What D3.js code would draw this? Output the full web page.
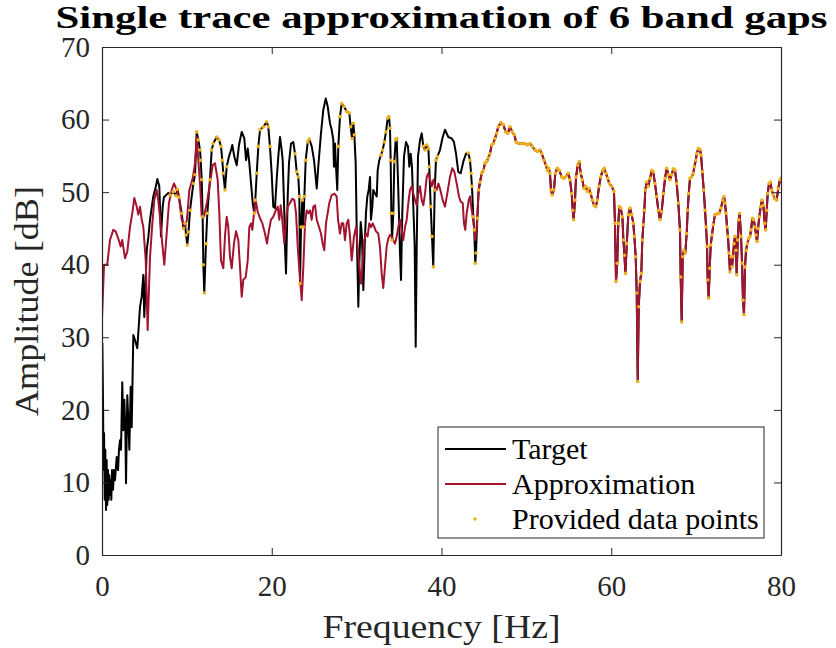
<!DOCTYPE html>
<html>
<head>
<meta charset="utf-8">
<script src="https://cdn.jsdelivr.net/npm/d3@7"></script>
<style>
  html, body { margin: 0; padding: 0; background: #fff; }
  svg { display: block; }
  svg text { font-family: 'Liberation Serif', 'Times New Roman', Times, serif; }
</style>
</head>
<body>
<div id="chart"></div>
<script>
// ── Data (frequency in Hz, amplitude in dB) ─────────────────────────────────
// Target below ~44 Hz, where it differs from the approximation
const targetHead = [
  [0.04,29.2],[0.12,21.4],[0.18,11.7],[0.24,16.8],[0.32,7.6],[0.39,14.5],[0.47,6.2],[0.55,13.1],
  [0.62,6.9],[0.71,11.7],[0.79,7.6],[0.86,11.0],[0.94,8.3],[1.03,10.3],[1.10,7.6],[1.18,11.7],
  [1.30,9.0],[1.41,11.7],[1.53,10.3],[1.73,13.5],[1.89,11.7],[2.00,14.5],[2.12,15.8],[2.24,14.5],
  [2.39,23.8],[2.51,17.2],[2.63,21.4],[2.75,17.2],[2.83,9.9],[2.98,22.0],[3.10,18.6],[3.22,14.5],
  [3.38,23.2],[3.50,17.6],[3.69,30.3],[3.89,29.6],[4.16,28.5],[4.48,34.2],[4.68,35.6],[4.87,38.6],
  [4.98,32.8],[5.07,35.1],[5.27,42.0],[5.46,43.8],[5.66,46.2],[6.04,49.4],[6.33,50.7],[6.52,51.8],
  [6.75,50.8],[6.95,43.9],[7.15,48.0],[7.30,49.3],[7.81,49.9],[8.01,49.6],[8.40,50.1],[8.72,49.5],
  [8.90,50.4],[9.07,49.3],[9.39,47.1],[9.60,45.0],[9.78,45.7],[9.90,44.1],[10.05,42.7],[10.19,44.5],
  [10.37,47.5],[10.76,51.2],[10.96,52.4],[11.16,58.3],[11.35,57.2],[11.55,55.8],[11.63,54.4],[11.75,51.7],
  [11.86,46.6],[11.94,40.0],[12.05,36.1],[12.25,42.9],[12.41,47.1],[12.72,51.7],[12.92,55.8],[13.11,56.7],
  [13.51,57.6],[13.79,57.2],[14.02,56.3],[14.17,54.4],[14.29,52.6],[14.49,50.3],[14.69,53.5],[14.96,54.9],
  [15.20,55.8],[15.35,56.5],[15.59,54.9],[15.87,53.7],[16.14,56.5],[16.46,58.3],[16.77,57.4],[16.97,54.4],
  [17.17,56.0],[17.36,54.0],[17.56,51.2],[17.76,48.5],[17.94,47.1],[18.06,48.9],[18.23,52.6],[18.42,56.3],
  [18.62,58.6],[19.00,59.0],[19.41,59.7],[19.59,59.0],[19.79,56.3],[19.99,52.6],[20.18,48.0],[20.38,47.8],
  [20.58,51.7],[20.77,54.9],[20.97,57.6],[21.17,55.8],[21.29,54.4],[21.36,51.7],[21.48,47.1],[21.56,42.5],
  [21.68,38.8],[21.88,49.4],[22.03,54.0],[22.27,56.7],[22.54,56.9],[22.74,55.3],[22.94,52.8],[23.13,52.1],
  [23.25,49.4],[23.33,37.4],[23.45,45.2],[23.60,48.9],[23.72,45.2],[23.84,49.4],[24.00,54.4],[24.24,56.9],
  [24.42,57.3],[24.71,56.3],[24.98,54.4],[25.30,50.5],[25.48,53.5],[25.80,58.1],[26.07,61.3],[26.36,62.9],
  [26.59,61.8],[26.86,59.5],[27.06,58.6],[27.25,57.2],[27.33,53.5],[27.45,56.7],[27.57,53.5],[27.72,50.3],
  [27.84,56.3],[28.04,60.4],[28.24,62.2],[28.51,61.8],[28.83,61.1],[29.14,60.9],[29.30,59.0],[29.46,57.4],
  [29.61,59.5],[29.73,57.9],[29.89,54.0],[30.01,44.8],[30.20,34.2],[30.32,40.2],[30.48,45.9],[30.63,43.9],
  [30.79,36.5],[30.95,42.5],[31.10,47.1],[31.26,49.4],[31.42,50.3],[31.58,52.1],[31.69,46.2],[31.85,48.0],
  [31.96,50.3],[32.17,49.8],[32.37,49.4],[32.48,53.0],[32.67,54.4],[32.87,55.1],[33.07,55.8],[33.26,56.9],
  [33.46,58.3],[33.66,60.2],[33.81,60.4],[33.93,58.8],[34.01,54.4],[34.09,47.1],[34.17,43.4],[34.32,47.1],
  [34.44,54.2],[34.60,57.2],[34.72,57.4],[34.91,50.3],[35.11,41.6],[35.23,37.9],[35.38,47.1],[35.58,54.9],
  [35.82,56.9],[36.05,56.3],[36.21,53.5],[36.37,55.3],[36.52,53.5],[36.68,48.0],[36.84,42.5],[36.96,28.7],
  [37.08,42.5],[37.23,54.9],[37.47,57.2],[37.67,58.1],[37.86,56.3],[38.06,55.8],[38.26,56.5],[38.45,56.0],
  [38.56,53.5],[38.73,48.0],[38.88,43.9],[39.03,39.7],[39.20,50.3],[39.35,54.4],[39.51,54.9],[39.82,55.8],
  [40.12,57.5],[40.41,58.6],[40.80,57.6],[41.20,57.4],[41.47,56.9],[41.71,55.3],[41.98,52.8],[42.26,52.6],
  [42.57,54.2],[42.89,55.3],[43.16,55.4],[43.36,54.4],[43.48,52.6],[43.59,50.8],[43.75,46.6],[43.86,44.8],
  [43.98,40.2],[44.06,41.6],[44.22,46.4]
];

// Approximation below ~44 Hz
const approxHead = [
  [0.00,32.6],[0.24,40.0],[0.62,40.0],[0.94,43.4],[1.33,44.8],[1.61,44.6],[1.92,43.6],[2.20,42.5],
  [2.39,43.4],[2.71,40.9],[2.98,41.8],[3.30,45.2],[3.57,47.1],[3.81,49.2],[4.09,48.0],[4.28,46.9],
  [4.48,48.0],[4.68,46.2],[4.87,45.2],[5.15,40.6],[5.38,31.0],[5.66,41.1],[5.93,45.7],[6.16,48.9],
  [6.44,50.3],[6.63,48.9],[6.83,46.6],[7.10,42.9],[7.34,40.0],[7.62,44.3],[7.89,48.5],[8.21,50.3],
  [8.48,51.2],[8.80,50.3],[9.11,48.9],[9.39,46.2],[9.78,45.2],[10.01,46.2],[10.29,50.3],[10.69,51.9],
  [10.96,54.0],[11.16,57.6],[11.35,54.4],[11.55,51.2],[11.75,46.6],[12.02,46.6],[12.41,48.9],[12.72,51.2],
  [13.04,53.7],[13.31,54.0],[13.63,51.7],[13.82,47.1],[14.02,40.6],[14.29,39.5],[14.49,43.9],[14.69,46.6],
  [14.88,45.2],[15.08,41.1],[15.28,39.5],[15.55,42.9],[15.79,44.6],[16.06,43.4],[16.26,39.7],[16.46,35.6],
  [16.65,37.9],[16.93,38.3],[17.17,40.6],[17.36,45.2],[17.56,45.7],[17.71,44.8],[17.91,47.1],[18.11,48.9],
  [18.34,47.3],[18.62,46.4],[18.89,45.7],[19.20,44.3],[19.44,42.9],[19.68,44.8],[19.91,46.2],[20.18,46.6],
  [20.47,47.5],[20.70,48.0],[20.89,46.2],[21.05,48.2],[21.24,46.2],[21.48,42.9],[21.68,46.2],[21.88,48.0],
  [22.15,48.5],[22.42,49.1],[22.66,48.9],[22.86,47.1],[23.06,42.5],[23.25,39.3],[23.53,35.1],[23.72,39.7],
  [23.92,45.7],[24.12,47.5],[24.31,47.1],[24.51,47.5],[24.71,46.2],[24.90,48.0],[25.10,48.2],[25.30,46.2],
  [25.57,45.2],[25.80,44.3],[26.00,42.9],[26.19,42.0],[26.39,45.7],[26.59,47.1],[26.78,48.5],[27.06,49.6],
  [27.37,49.8],[27.65,49.4],[27.81,46.2],[28.04,44.3],[28.24,45.7],[28.43,45.7],[28.63,43.4],[28.83,45.7],
  [29.02,46.2],[29.22,43.9],[29.42,40.6],[29.69,43.9],[29.93,45.2],[30.12,42.5],[30.32,39.7],[30.52,37.4],
  [30.72,40.6],[30.90,43.4],[31.10,44.3],[31.30,43.9],[31.49,45.7],[31.69,45.2],[31.89,45.7],[32.08,45.2],
  [32.28,44.6],[32.55,44.3],[32.75,42.5],[32.95,38.8],[33.14,36.8],[33.34,39.7],[33.54,42.5],[33.73,43.6],
  [33.93,44.1],[34.13,43.9],[34.32,43.4],[34.52,42.9],[34.72,43.9],[34.91,45.2],[35.11,46.2],[35.31,44.8],
  [35.50,43.4],[35.70,45.2],[35.90,46.2],[36.09,48.5],[36.29,50.3],[36.49,50.8],[36.68,49.8],[36.88,48.9],
  [37.08,48.2],[37.27,49.8],[37.47,50.8],[37.67,48.9],[37.86,48.2],[38.06,49.8],[38.26,52.1],[38.45,52.6],
  [38.66,51.7],[38.85,50.8],[39.05,51.7],[39.23,50.8],[39.43,50.3],[39.63,51.2],[39.82,50.5],[40.14,48.9],
  [40.41,48.0],[40.68,49.8],[41.00,52.1],[41.27,53.3],[41.51,52.8],[41.79,51.2],[42.06,49.4],[42.26,48.7],
  [42.50,48.5],[42.65,45.7],[42.80,44.8],[42.97,47.1],[43.21,48.9],[43.36,49.4],[43.51,48.0],[43.68,46.6],
  [43.83,45.2],[43.98,43.4],[44.15,45.2]
];

// Above ~44 Hz target and approximation coincide
const commonTail = [
  [44.38,50.3],[44.54,51.4],[44.74,52.6],[44.93,53.0],[45.13,54.0],[45.33,54.2],[45.51,54.7],[45.71,55.3],
  [45.91,56.5],[46.10,56.7],[46.30,57.4],[46.50,58.1],[46.69,59.0],[47.01,59.6],[47.28,59.3],[47.56,58.3],
  [47.80,58.1],[48.07,59.0],[48.34,58.3],[48.58,57.9],[48.78,56.9],[49.05,56.7],[49.45,56.7],[49.84,56.7],
  [50.11,56.5],[50.43,56.7],[50.70,56.3],[51.02,55.8],[51.29,55.6],[51.61,55.8],[51.81,55.3],[52.08,54.4],
  [52.31,53.7],[52.47,53.0],[52.63,53.3],[52.78,52.6],[52.90,50.3],[53.05,49.6],[53.25,50.3],[53.41,52.6],
  [53.64,53.3],[53.88,53.0],[54.16,52.1],[54.43,51.9],[54.67,52.2],[54.94,52.6],[55.14,51.7],[55.34,49.8],
  [55.46,47.5],[55.57,46.2],[55.73,48.9],[55.85,52.1],[56.05,53.7],[56.24,54.2],[56.40,52.6],[56.59,51.7],
  [56.79,50.5],[56.99,50.8],[57.18,50.1],[57.38,50.5],[57.58,49.8],[57.77,48.9],[57.97,48.2],[58.17,48.0],
  [58.36,48.9],[58.56,50.8],[58.76,52.1],[58.99,53.0],[59.18,53.3],[59.38,52.6],[59.58,51.9],[59.77,51.2],
  [60.05,50.8],[60.32,50.1],[60.44,45.7],[60.56,37.7],[60.71,40.2],[60.83,45.7],[60.95,48.0],[61.12,47.8],
  [61.31,46.6],[61.43,43.4],[61.55,41.3],[61.67,38.8],[61.83,42.9],[62.01,46.9],[62.21,47.8],[62.41,46.9],
  [62.60,45.7],[62.72,43.9],[62.88,41.1],[63.00,36.1],[63.12,23.9],[63.24,34.2],[63.39,37.7],[63.54,38.8],
  [63.66,43.4],[63.78,45.5],[63.90,47.5],[64.01,50.3],[64.18,51.4],[64.36,50.8],[64.57,51.9],[64.77,53.0],
  [64.95,52.8],[65.15,51.2],[65.35,49.4],[65.55,47.5],[65.74,46.2],[65.94,47.3],[66.14,49.8],[66.34,51.9],
  [66.53,53.3],[66.73,52.4],[66.92,51.7],[67.12,52.4],[67.31,53.2],[67.51,53.0],[67.71,51.2],[67.90,48.5],
  [68.10,44.8],[68.18,38.3],[68.30,32.1],[68.42,41.1],[68.57,42.0],[68.72,41.6],[68.89,44.3],[69.01,47.5],
  [69.13,49.8],[69.28,51.9],[69.48,52.1],[69.67,52.6],[69.79,53.5],[69.96,54.4],[70.07,55.3],[70.26,56.0],
  [70.46,55.9],[70.58,55.1],[70.73,52.8],[70.90,50.3],[71.05,47.5],[71.17,45.2],[71.29,42.5],[71.36,37.9],
  [71.48,35.4],[71.60,39.5],[71.72,42.7],[71.87,44.1],[72.02,45.5],[72.22,46.9],[72.49,47.0],[72.73,47.1],
  [72.93,47.8],[73.13,48.9],[73.28,49.4],[73.40,48.5],[73.52,47.1],[73.64,45.2],[73.75,43.9],[73.87,41.6],
  [73.99,39.0],[74.11,41.1],[74.23,39.7],[74.35,41.1],[74.46,42.9],[74.58,43.9],[74.70,42.0],[74.78,38.6],
  [74.90,43.4],[75.02,46.2],[75.13,47.1],[75.29,43.9],[75.41,40.2],[75.52,35.1],[75.64,33.1],[75.76,39.7],
  [75.88,42.0],[76.03,42.9],[76.20,43.6],[76.35,43.9],[76.47,44.8],[76.62,46.4],[76.79,46.2],[76.94,45.2],
  [77.06,44.1],[77.18,43.2],[77.30,45.0],[77.44,46.6],[77.61,48.0],[77.76,48.9],[77.92,48.2],[78.08,45.7],
  [78.20,44.8],[78.32,47.5],[78.43,49.8],[78.59,51.2],[78.74,51.4],[78.91,50.3],[79.09,49.6],[79.29,49.1],
  [79.49,48.9],[79.68,50.5],[79.88,51.7],[80.00,51.9]
];

// Frequency bands where data points were provided (they sit on the target)
const providedBands = [[8.0,14.7],[17.8,19.8],[22.7,24.7],[27.8,29.8],[32.8,34.8],[37.7,39.8],[42.9,80]];

const xTicks = [0, 20, 40, 60, 80];
const yTicks = [0, 10, 20, 30, 40, 50, 60, 70];

const target = targetHead.concat(commonTail);
const approx = approxHead.concat(commonTail);
const provided = target.filter(d => providedBands.some(b => d[0] >= b[0] && d[0] <= b[1]));

// ── Chart ───────────────────────────────────────────────────────────────────
const W = 836, H = 648;
const margin = { top: 47, right: 55, bottom: 93, left: 102 };
const innerW = W - margin.left - margin.right;
const innerH = H - margin.top - margin.bottom;

const RED = '#a2142f', GOLD = '#edb120', AXIS = '#262626';

const svg = d3.select('#chart').append('svg')
  .attr('width', W).attr('height', H)
  .attr('viewBox', `0 0 ${W} ${H}`);

const g = svg.append('g').attr('transform', `translate(${margin.left},${margin.top})`);

const x = d3.scaleLinear().domain([0, 80]).range([0, innerW]);
const y = d3.scaleLinear().domain([0, 70]).range([innerH, 0]);

svg.append('defs').append('clipPath').attr('id', 'plot-clip')
  .append('rect').attr('width', innerW).attr('height', innerH);

const line = d3.line().x(d => x(d[0])).y(d => y(d[1]));

const plot = g.append('g').attr('clip-path', 'url(#plot-clip)');
plot.append('path').datum(target)
  .attr('fill', 'none').attr('stroke', '#000').attr('stroke-width', 2)
  .attr('stroke-linejoin', 'round').attr('d', line);
plot.append('path').datum(approx)
  .attr('fill', 'none').attr('stroke', RED).attr('stroke-width', 2)
  .attr('stroke-linejoin', 'round').attr('d', line);
plot.selectAll('.pt').data(provided).enter().append('circle')
  .attr('class', 'pt')
  .attr('cx', d => x(d[0])).attr('cy', d => y(d[1]))
  .attr('r', 1.8).attr('fill', GOLD);

// Axes: ticks point inward on all four sides (box on)
function styleAxis(ax) {
  ax.select('.domain').attr('stroke', AXIS).attr('stroke-width', 1.2);
  ax.selectAll('.tick line').attr('stroke', AXIS).attr('stroke-width', 1);
  ax.selectAll('.tick text').attr('fill', '#262626').attr('font-size', 29);
}

g.append('g').attr('transform', `translate(0,${innerH})`)
  .call(d3.axisBottom(x).tickValues(xTicks).tickSize(-7).tickSizeOuter(0).tickPadding(20))
  .call(styleAxis);
g.append('g')
  .call(d3.axisTop(x).tickValues(xTicks).tickSize(-7).tickSizeOuter(0).tickFormat(''))
  .call(styleAxis);
g.append('g')
  .call(d3.axisLeft(y).tickValues(yTicks).tickSize(-7).tickSizeOuter(0).tickPadding(12))
  .call(styleAxis);
g.append('g').attr('transform', `translate(${innerW},0)`)
  .call(d3.axisRight(y).tickValues(yTicks).tickSize(-7).tickSizeOuter(0).tickFormat(''))
  .call(styleAxis);

// Title and axis labels
svg.append('text')
  .attr('x', margin.left + innerW / 2).attr('y', 28)
  .attr('text-anchor', 'middle')
  .attr('font-size', 32).attr('font-weight', 'bold')
  .attr('textLength', 772).attr('lengthAdjust', 'spacingAndGlyphs')
  .text('Single trace approximation of 6 band gaps');

svg.append('text')
  .attr('x', margin.left + innerW / 2).attr('y', 638)
  .attr('text-anchor', 'middle')
  .attr('font-size', 34).attr('fill', '#262626')
  .attr('textLength', 238).attr('lengthAdjust', 'spacingAndGlyphs')
  .text('Frequency [Hz]');

svg.append('text')
  .attr('transform', `translate(38,${margin.top + innerH / 2}) rotate(-90)`)
  .attr('text-anchor', 'middle')
  .attr('font-size', 34).attr('fill', '#262626')
  .attr('textLength', 230).attr('lengthAdjust', 'spacingAndGlyphs')
  .text('Amplitude [dB]');

// Legend
const legendItems = [
  { label: 'Target', type: 'line', color: '#000' },
  { label: 'Approximation', type: 'line', color: RED },
  { label: 'Provided data points', type: 'dot', color: GOLD }
];
const legend = svg.append('g').attr('transform', 'translate(438,427)');
legend.append('rect')
  .attr('width', 326).attr('height', 111)
  .attr('fill', '#fff').attr('stroke', AXIS).attr('stroke-width', 1);
legendItems.forEach((item, i) => {
  const ly = 22 + i * 35;
  if (item.type === 'line') {
    legend.append('line').attr('x1', 7).attr('x2', 68).attr('y1', ly).attr('y2', ly)
      .attr('stroke', item.color).attr('stroke-width', 2);
  } else {
    legend.append('circle').attr('cx', 37).attr('cy', ly).attr('r', 1.8).attr('fill', item.color);
  }
  legend.append('text').attr('x', 74).attr('y', ly + 10)
    .attr('font-size', 30).attr('fill', '#000')
    .text(item.label);
});
</script>
</body>
</html>
